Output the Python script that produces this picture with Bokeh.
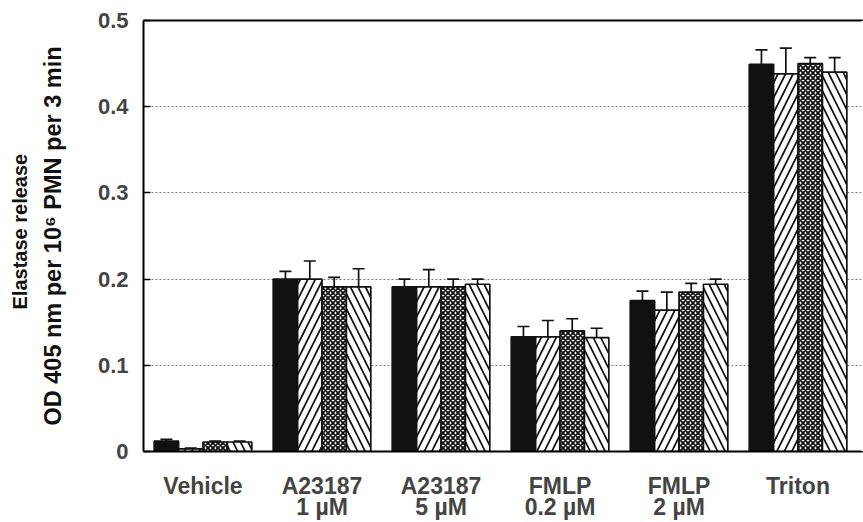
from bokeh.plotting import figure
from bokeh.models import Range1d, FixedTicker, Whisker, TeeHead, ColumnDataSource, LinearAxis, Title, Span
from bokeh.embed import file_html
from bokeh.resources import INLINE

# ---- data ----
categories = ["Vehicle", "A23187\n1 µM", "A23187\n5 µM", "FMLP\n0.2 µM", "FMLP\n2 µM", "Triton"]
series1 = [0.012, 0.200, 0.191, 0.133, 0.175, 0.449]   # black
err1    = [0.002, 0.009, 0.009, 0.012, 0.011, 0.017]
series2 = [0.003, 0.200, 0.191, 0.133, 0.164, 0.438]   # right diagonal
err2    = [0.001, 0.021, 0.020, 0.019, 0.021, 0.030]
series3 = [0.011, 0.191, 0.191, 0.140, 0.185, 0.450]   # cross hatch
err3    = [0.001, 0.011, 0.009, 0.014, 0.010, 0.007]
series4 = [0.011, 0.191, 0.194, 0.132, 0.194, 0.440]   # left diagonal
err4    = [0.001, 0.021, 0.006, 0.011, 0.006, 0.017]
y_ticks = [0, 0.1, 0.2, 0.3, 0.4, 0.5]
y_tick_labels = ["0", "0.1", "0.2", "0.3", "0.4", "0.5"]
y_label_line1 = "Elastase release"
y_label_line2 = "OD 405 nm per 10⁶ PMN per 3 min"

FONT = "Liberation Sans"
X_END = 6.05

p = figure(width=863, height=522, output_backend="svg", toolbar_location=None,
           x_range=Range1d(0, X_END), y_range=Range1d(0, 0.5),
           min_border_left=143, min_border_right=0, min_border_top=20, min_border_bottom=70)
p.outline_line_color = None
p.outline_line_alpha = 0
p.background_fill_color = "white"
p.border_fill_color = "white"

bar_w = 0.205
offsets = [-1.5 * bar_w, -0.5 * bar_w, 0.5 * bar_w, 1.5 * bar_w]
styles = [
    dict(fill_color="#111111", hatch_pattern=None),
    dict(fill_color="white", hatch_pattern="/", hatch_scale=15, hatch_weight=1.7, hatch_color="#111111"),
    dict(fill_color="white", hatch_pattern="x", hatch_scale=5, hatch_weight=1.8, hatch_color="#111111"),
    dict(fill_color="white", hatch_pattern="\\", hatch_scale=15, hatch_weight=1.7, hatch_color="#111111"),
]
all_series = [series1, series2, series3, series4]
all_errs = [err1, err2, err3, err4]

for s, e, off, st in zip(all_series, all_errs, offsets, styles):
    xs = [i + 0.5 + off for i in range(len(categories))]
    src = ColumnDataSource(dict(x=xs, top=s, upper=[a + b for a, b in zip(s, e)]))
    p.vbar(x="x", top="top", width=bar_w, source=src, line_color="#111111", line_width=1.7, **st)
    w = Whisker(base="x", lower="top", upper="upper", source=src, line_color="#111111", line_width=1.7,
                upper_head=TeeHead(size=12, line_color="#111111", line_width=1.7), lower_head=None)
    p.add_layout(w)

# hide the stray frame edge on the right (the chart is cropped there)
p.add_layout(Span(location=X_END, dimension="height", line_color="white", line_width=4, level="overlay"))

# grid
p.xgrid.grid_line_color = None
p.ygrid.ticker = FixedTicker(ticks=[0.1, 0.2, 0.3, 0.4])
p.ygrid.grid_line_color = "#777777"
p.ygrid.grid_line_dash = "2 2"
p.ygrid.grid_line_width = 1

# y axis
p.yaxis.ticker = FixedTicker(ticks=y_ticks)
p.yaxis.major_label_overrides = {t: l for t, l in zip(y_ticks, y_tick_labels)}
p.yaxis.major_tick_in = 7
p.yaxis.major_tick_out = 0
p.yaxis.minor_tick_line_color = None
p.yaxis.axis_line_width = 2
p.yaxis.major_tick_line_width = 1.5
p.yaxis.major_label_standoff = 15
p.yaxis.major_label_text_font = FONT
p.yaxis.major_label_text_font_size = "22px"
p.yaxis.major_label_text_font_style = "bold"
p.yaxis.axis_label = y_label_line2
p.yaxis.axis_label_text_font = FONT
p.yaxis.axis_label_text_font_size = "23.5px"
p.yaxis.axis_label_text_font_style = "bold"
p.yaxis.axis_label_text_color = "#111111"
p.yaxis.axis_label_standoff = 29

# outer line of the y title
t1 = Title(text=y_label_line1, align="left", offset=142, standoff=12, text_font=FONT,
           text_font_size="20px", text_font_style="bold", text_color="#111111")
p.add_layout(t1, "left")

# x axis: first line of category labels
tick_pos = [i + 0.5 for i in range(len(categories))]
line1 = [c.split("\n")[0] for c in categories]
line2 = [c.split("\n")[1] if "\n" in c else " " for c in categories]
p.xaxis.ticker = FixedTicker(ticks=tick_pos)
p.xaxis.major_label_overrides = {t: l for t, l in zip(tick_pos, line1)}
p.xaxis.major_tick_line_color = None
p.xaxis.major_tick_out = 0
p.xaxis.major_tick_in = 0
p.xaxis.minor_tick_line_color = None
p.xaxis.axis_line_width = 2
p.xaxis.major_label_standoff = 21
p.xaxis.major_label_text_font = FONT
p.xaxis.major_label_text_font_size = "23px"
p.xaxis.major_label_text_font_style = "bold"

# second line of category labels
x2 = LinearAxis(ticker=FixedTicker(ticks=tick_pos),
                major_label_overrides={t: l for t, l in zip(tick_pos, line2)},
                axis_line_color=None, major_tick_line_color=None, minor_tick_line_color=None,
                major_tick_out=0, major_tick_in=0, major_label_standoff=-8,
                major_label_text_font=FONT, major_label_text_font_size="23px",
                major_label_text_font_style="bold")
p.add_layout(x2, "below")

# top border line
top_axis = LinearAxis(ticker=FixedTicker(ticks=[]), major_label_text_font_size="0px",
                      major_tick_line_color=None, minor_tick_line_color=None,
                      major_tick_out=0, major_tick_in=0, axis_line_width=2)
p.add_layout(top_axis, "above")

open("out.html", "w").write(file_html(p, INLINE))
